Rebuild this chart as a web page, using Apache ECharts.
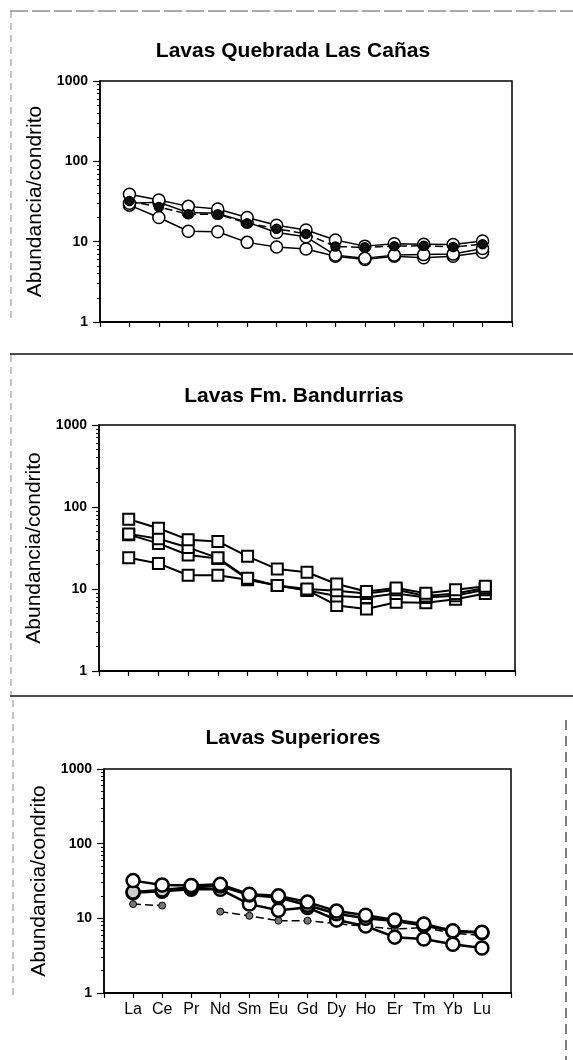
<!DOCTYPE html>
<html>
<head>
<meta charset="utf-8">
<title>Abundancia/condrito</title>
<script src="https://cdn.jsdelivr.net/npm/echarts@6/dist/echarts.min.js"></script>
<style>
  html, body { margin: 0; padding: 0; background: #fff; }
  #chartMain { width: 573px; height: 1060px; }
</style>
</head>
<body>
<div id="chartMain"></div>
<script>
// tierras raras, eje x
var elementos = ['La', 'Ce', 'Pr', 'Nd', 'Sm', 'Eu', 'Gd', 'Dy', 'Ho', 'Er', 'Tm', 'Yb', 'Lu'];
var yTicks = [1, 10, 100, 1000];
var titulos = ['Lavas Quebrada Las Cañas', 'Lavas Fm. Bandurrias', 'Lavas Superiores'];
var yNombre = 'Abundancia/condrito';

// Lavas Quebrada Las Cañas
var qc1 = [39, 33, 27.5, 25.5, 20, 16, 14, 10.5, 8.8, 9.4, 9.3, 9.2, 10.2];
var qc2 = [32, 27, 22, 22, 17, 14.5, 12.5, 8.7, 8.5, 8.8, 8.9, 8.6, 9.3];   // discontinua
var qc3 = [30, 31, 23, 22.5, 17.5, 13, 11.5, 6.8, 6.2, 6.8, 6.9, 7.0, 8.2];
var qc4 = [28.5, 20, 13.5, 13.3, 9.8, 8.6, 8.1, 6.6, 6.0, 6.6, 6.3, 6.6, 7.4];

// Lavas Fm. Bandurrias
var bd1 = [71, 55, 40, 38, 25, 17.5, 16, 11.5, 9.3, 10.3, 8.9, 9.8, 10.8];
var bd2 = [47, 41, 32, 24, 13.5, 11, 10, 9.5, 8.8, 9.8, 8.2, 8.8, 10.3];
var bd3 = [46, 36, 26, 23.5, 13.2, 11, 9.6, 8.2, 7.9, 8.8, 7.9, 8.3, 9.8];
var bd4 = [24, 20.5, 14.7, 14.7, 13, 11, 9.7, 6.3, 5.7, 6.9, 6.8, 7.5, 8.8];

// Lavas Superiores
var ls1 = [32, 28, 27.5, 28.5, 21, 20, 16.5, 12.5, 11, 9.5, 8.4, 6.8, 6.5];
var ls2 = [22.5, 24, 26, 27, 20.5, 19, 15, 11.5, 10, 9.2, 8, 6.7, 6.4];
var ls3 = [22, 23, 24.5, 24.5, 15.5, 12.8, 14, 9.5, 7.9, 5.6, 5.3, 4.5, 4.0];
var ls4 = [15.5, 14.8, null, 12.3, 10.8, 9.3, 9.3, 8.5, 7.8, 7.2, 7.5, 6.3, 5.9];  // discontinua

var fuente = '"Liberation Sans", Arial, sans-serif';

function buildChart() {
    var myChart = echarts.init(document.getElementById('chartMain'), null, { renderer: 'canvas' });

    //posicion de cada grafico
    var grids = [
        { left: 100, top: 81, width: 412, height: 241 },
        { left: 99, top: 425, width: 416, height: 246 },
        { left: 104, top: 769, width: 407, height: 224 }
    ];
    var titleTops = [41, 386, 728];
    var titleLefts = [293, 294, 293];

    // marcas menores del eje log
    var menores = [];
    [1, 10, 100].forEach(function (d) {
        for (var k = 2; k <= 9; k++) menores.push(k * d);
    });

    var option = {
        backgroundColor: '#fff',
        animation: false,
        textStyle: { fontFamily: fuente, color: '#000' },
        title: titulos.map(function (t, i) {
            return {
                text: t,
                left: titleLefts[i],
                top: titleTops[i],
                textAlign: 'center',
                padding: 0,
                textStyle: { fontSize: 21, fontWeight: 'bold', color: '#000', fontFamily: fuente }
            };
        }),
        grid: grids.map(function (g) {
            return {
                left: g.left, top: g.top, width: g.width, height: g.height,
                show: true, borderColor: '#000', borderWidth: 1.5, backgroundColor: 'transparent'
            };
        }),
        xAxis: grids.map(function (g, i) {
            return {
                type: 'value',
                gridIndex: i,
                min: 0,
                max: elementos.length + 1,
                interval: 1,
                splitLine: { show: false },
                axisLine: { show: true, lineStyle: { color: '#000', width: 2 } },
                axisTick: { show: true, inside: false, length: 5, lineStyle: { color: '#000', width: 1.2 } },
                axisLabel: {
                    show: i === 2,
                    margin: 9,
                    fontSize: 16,
                    color: '#000',
                    fontFamily: fuente,
                    formatter: function (v) { return elementos[v - 1] || ''; }
                }
            };
        }),
        yAxis: (function () {
            var arr = [];
            for (var i = 0; i < grids.length; i++) {
                arr.push({
                    type: 'log',
                    logBase: 10,
                    gridIndex: i,
                    min: 1,
                    max: 1000,
                    name: yNombre,
                    nameLocation: 'middle',
                    nameRotate: 90,
                    nameGap: 50,
                    nameTextStyle: { fontSize: 21, color: '#000', fontFamily: fuente },
                    splitLine: { show: false },
                    axisLine: { show: true, lineStyle: { color: '#000', width: 1.5 } },
                    axisTick: { show: true, length: 7, customValues: yTicks, lineStyle: { color: '#000', width: 1.2 } },
                    axisLabel: {
                        customValues: yTicks,
                        margin: 12,
                        fontSize: 14,
                        fontWeight: 'bold',
                        color: '#000',
                        fontFamily: fuente,
                        formatter: function (v) { return String(Math.round(v)); }
                    }
                });
                // eje auxiliar solo para las marcas menores
                arr.push({
                    type: 'log',
                    logBase: 10,
                    gridIndex: i,
                    min: 1,
                    max: 1000,
                    position: 'left',
                    splitLine: { show: false },
                    axisLine: { show: false },
                    axisLabel: { show: false },
                    axisTick: { show: true, length: 3, customValues: menores, lineStyle: { color: '#000', width: 1 } }
                });
            }
            return arr;
        })(),
        series: [],
        graphic: [
            { type: 'line', shape: { x1: 10, y1: 11, x2: 573, y2: 11 }, style: { stroke: '#555', lineWidth: 1, lineDash: [18, 4] } },
            { type: 'line', shape: { x1: 11, y1: 11, x2: 11, y2: 318 }, style: { stroke: '#888', lineWidth: 1, lineDash: [7, 5] } },
            { type: 'line', shape: { x1: 10, y1: 354, x2: 573, y2: 354 }, style: { stroke: '#111', lineWidth: 1.5 } },
            { type: 'line', shape: { x1: 11, y1: 355, x2: 11, y2: 695 }, style: { stroke: '#888', lineWidth: 1, lineDash: [7, 5] } },
            { type: 'line', shape: { x1: 10, y1: 696, x2: 573, y2: 696 }, style: { stroke: '#111', lineWidth: 1.5 } },
            { type: 'line', shape: { x1: 13, y1: 700, x2: 13, y2: 1000 }, style: { stroke: '#888', lineWidth: 1, lineDash: [7, 5] } },
            { type: 'line', shape: { x1: 566, y1: 720, x2: 566, y2: 1060 }, style: { stroke: '#555', lineWidth: 1.5, lineDash: [10, 6] } }
        ]
    };

    function serie(gi, vals, cfg) {
        return {
            type: 'line',
            xAxisIndex: gi,
            yAxisIndex: gi * 2,
            connectNulls: false,
            symbol: cfg.symbol || 'circle',
            symbolSize: cfg.size || 12,
            data: elementos.map(function (e, i) { return [i + 1, vals[i]]; }),
            lineStyle: { color: '#000', width: cfg.lw || 1.5, type: cfg.dash ? [8, 4] : 'solid' },
            itemStyle: { color: cfg.fill || '#fff', borderColor: '#000', borderWidth: cfg.bw || 1.5 },
            emphasis: { disabled: true }
        };
    }

    option.series = [
        serie(0, qc4, {}),
        serie(0, qc3, {}),
        serie(0, qc1, {}),
        serie(0, qc2, { dash: true, fill: '#111', size: 9 }),
        serie(1, bd4, { symbol: 'rect', size: 11, lw: 2, bw: 2 }),
        serie(1, bd3, { symbol: 'rect', size: 11, lw: 2, bw: 2 }),
        serie(1, bd2, { symbol: 'rect', size: 11, lw: 2, bw: 2 }),
        serie(1, bd1, { symbol: 'rect', size: 11, lw: 2, bw: 2 }),
        serie(2, ls4, { dash: true, fill: '#777', size: 7, lw: 1.5, bw: 1 }),
        serie(2, ls3, { size: 13, lw: 2.5, bw: 2.5 }),
        serie(2, ls2, { size: 13, lw: 2.5, bw: 2.5, fill: '#ccc' }),
        serie(2, ls1, { size: 13, lw: 2.5, bw: 2.5 })
    ];

    myChart.setOption(option, true);
}

buildChart();
</script>
</body>
</html>
